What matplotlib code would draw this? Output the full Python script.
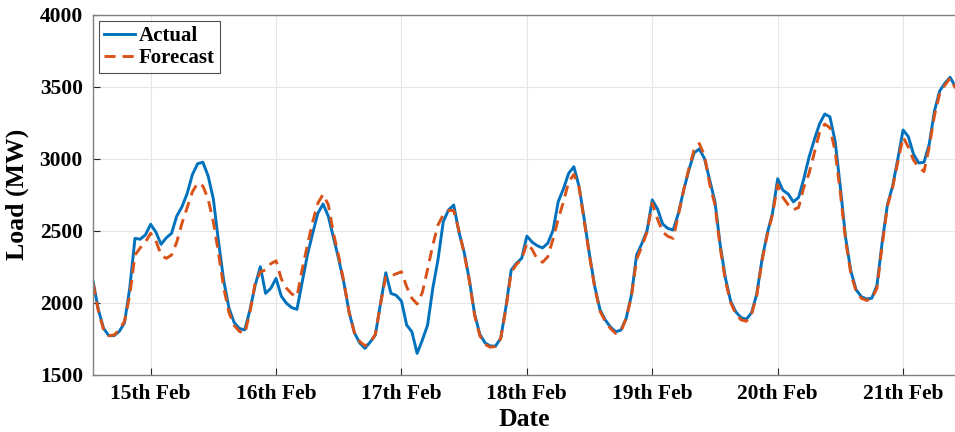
import matplotlib
matplotlib.use("Agg")
import matplotlib.pyplot as plt
import numpy as np

# Hours relative to 15th Feb 00:00
hours = list(range(-11, 155))

actual = [2145, 1950, 1820, 1770, 1770, 1800, 1860, 2100, 2446, 2440, 2470,
          2544, 2490, 2405, 2450, 2481, 2601, 2666, 2759, 2890, 2965, 2975, 2880, 2720, 2420, 2150, 1960, 1860, 1820, 1810, 1948, 2120, 2249, 2064, 2099,
          2168, 2045, 1995, 1965, 1953, 2140, 2330, 2480, 2620, 2685, 2600, 2450, 2300, 2134, 1930, 1790, 1720, 1682, 1725, 1774, 1995, 2207, 2064, 2050,
          2010, 1844, 1797, 1647, 1740, 1844, 2100, 2300, 2562, 2643, 2678, 2490, 2350, 2157, 1920, 1780, 1720, 1698, 1698, 1752, 1971, 2226, 2273, 2307,
          2462, 2420, 2395, 2380, 2412, 2500, 2701, 2790, 2898, 2944, 2805, 2574, 2330, 2110, 1950, 1880, 1830, 1797, 1809, 1890, 2050, 2330, 2410, 2500,
          2713, 2650, 2545, 2515, 2504, 2620, 2780, 2920, 3040, 3067, 3000, 2850, 2700, 2400, 2170, 2010, 1935, 1895, 1884, 1930, 2060, 2300, 2480, 2620,
          2860, 2780, 2755, 2700, 2730, 2860, 3010, 3130, 3240, 3310, 3290, 3120, 2800, 2450, 2220, 2090, 2041, 2025, 2030, 2120, 2420, 2680, 2810, 3000,
          3199, 3153, 3030, 2970, 2975, 3100, 3330, 3470, 3524, 3565, 3500]

forecast = [2130, 1940, 1810, 1770, 1775, 1810, 1870, 2050, 2330, 2380, 2420,
            2481, 2430, 2330, 2307, 2330, 2420, 2551, 2660, 2770, 2830, 2810, 2720, 2560, 2340, 2100, 1930, 1840, 1800, 1785, 1930, 2134, 2215, 2226, 2270,
            2290, 2165, 2100, 2060, 2041, 2230, 2400, 2560, 2690, 2752, 2680, 2480, 2320, 2140, 1930, 1790, 1730, 1700, 1720, 1780, 1990, 2180, 2185, 2200,
            2214, 2110, 2030, 1990, 2070, 2230, 2400, 2540, 2610, 2640, 2640, 2500, 2340, 2150, 1910, 1770, 1710, 1690, 1695, 1750, 1960, 2210, 2265, 2300,
            2412, 2370, 2300, 2280, 2318, 2440, 2580, 2700, 2840, 2890, 2800, 2560, 2320, 2100, 1940, 1870, 1820, 1785, 1800, 1890, 2040, 2300, 2390, 2490,
            2690, 2580, 2490, 2460, 2446, 2610, 2780, 2930, 3060, 3105, 3020, 2820, 2680, 2380, 2150, 2000, 1920, 1880, 1870, 1920, 2050, 2290, 2470, 2610,
            2820, 2730, 2680, 2645, 2660, 2800, 2898, 3040, 3180, 3240, 3215, 3050, 2760, 2430, 2200, 2080, 2030, 2015, 2025, 2100, 2400, 2670, 2800, 2980,
            3150, 3080, 2990, 2940, 2910, 3080, 3300, 3450, 3510, 3560, 3490]

tick_hours = [0, 24, 48, 72, 96, 120, 144]
tick_labels = ["15th Feb", "16th Feb", "17th Feb", "18th Feb", "19th Feb", "20th Feb", "21th Feb"]
y_ticks = [1500, 2000, 2500, 3000, 3500, 4000]

plt.rcParams['font.family'] = ['Liberation Serif', 'DejaVu Serif']
plt.rcParams['font.weight'] = 'bold'

fig = plt.figure(figsize=(9.55, 4.32), dpi=100)
ax = fig.add_axes([0.097, 0.133, 0.905, 0.833])

ax.plot(hours, actual, color='#0072BD', lw=2.1, label='Actual')
ax.plot(hours, forecast, color='#D95319', lw=2.1, ls=(0, (3.8, 2.4)), label='Forecast')

ax.set_xlim(-11.1, 154.3)
ax.set_ylim(1500, 4000)
ax.set_xticks(tick_hours)
ax.set_xticklabels(tick_labels)
ax.set_yticks(y_ticks)
ax.tick_params(direction='in', length=5, width=0.8, colors='#262626', labelsize=15.5, pad=7)
for lab in ax.get_xticklabels() + ax.get_yticklabels():
    lab.set_fontweight('bold')
    lab.set_color('black')
ax.grid(True, color='#e6e6e6', lw=0.8)
ax.set_axisbelow(True)
for s in ax.spines.values():
    s.set_color('#808080')
    s.set_linewidth(1.0)

ax.set_xlabel('Date', fontsize=18.5, fontweight='bold', labelpad=3)
ax.set_ylabel('Load (MW)', fontsize=18.5, fontweight='bold', labelpad=8)

leg = ax.legend(loc='upper left', fontsize=15, frameon=True, fancybox=False,
                edgecolor='#262626', handlelength=1.5, handletextpad=0.15,
                borderpad=0.25, labelspacing=0.1, borderaxespad=0.3)
leg.get_frame().set_linewidth(0.8)
for t in leg.get_texts():
    t.set_fontweight('bold')

fig.savefig('out.png', dpi=100)
